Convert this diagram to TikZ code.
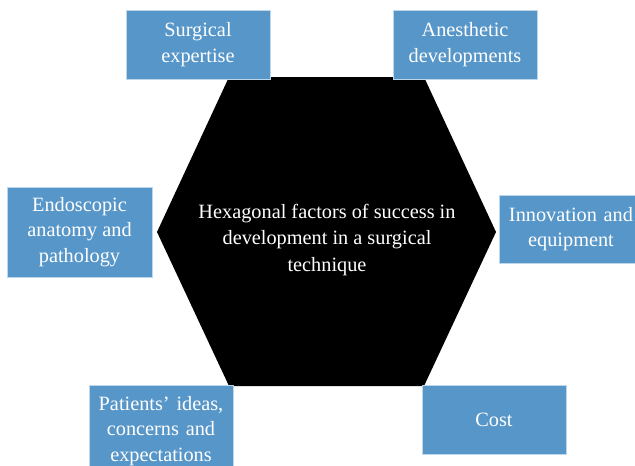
\documentclass[tikz,border=0pt]{standalone}
\usepackage{fontspec}
\setmainfont{Liberation Serif}
\definecolor{boxblue}{RGB}{87,150,200}
\definecolor{boxedge}{RGB}{190,215,235}
\tikzset{
  x=1pt, y=-1pt,
  fbox/.style={fill=boxblue, draw=boxedge, line width=0.8pt, text=white, align=center,
    font=\fontsize{20.3}{25.5}\selectfont, inner sep=0pt},
  hextext/.style={text=white, align=center, font=\fontsize{20.3}{26.5}\selectfont}
}
\begin{document}
\begin{tikzpicture}
\clip (0,0) rectangle (635,466);
\fill[white] (0,0) rectangle (635,466);
% hexagon
\fill[black] (229,77) -- (424,77) -- (496,232) -- (424,386) -- (229,386) -- (157,232) -- cycle;
\node[hextext] (hex) at (327,240) {Hexagonal factors of success in\\development in a surgical\\technique};
% boxes
\node[fbox, minimum width=144, minimum height=69] (surg) at (198,44.5) {Surgical\\expertise};
\node[fbox, minimum width=144, minimum height=69] (anest) at (465,44.5) {Anesthetic\\developments};
\node[fbox, minimum width=145, minimum height=90] (endo) at (79.5,232) {Endoscopic\\anatomy and\\pathology};
\node[fbox, minimum width=144, minimum height=68, text width=144, align=center] (innov) at (571,229) {Innovation and\\equipment};
\node[fbox, minimum width=144, minimum height=92, text width=144, align=center] (pat) at (161,431) {Patients' ideas,\\concerns and\\expectations};
\node[fbox, minimum width=144, minimum height=69] (cost) at (494,419.5) {Cost};
\end{tikzpicture}
\end{document}
